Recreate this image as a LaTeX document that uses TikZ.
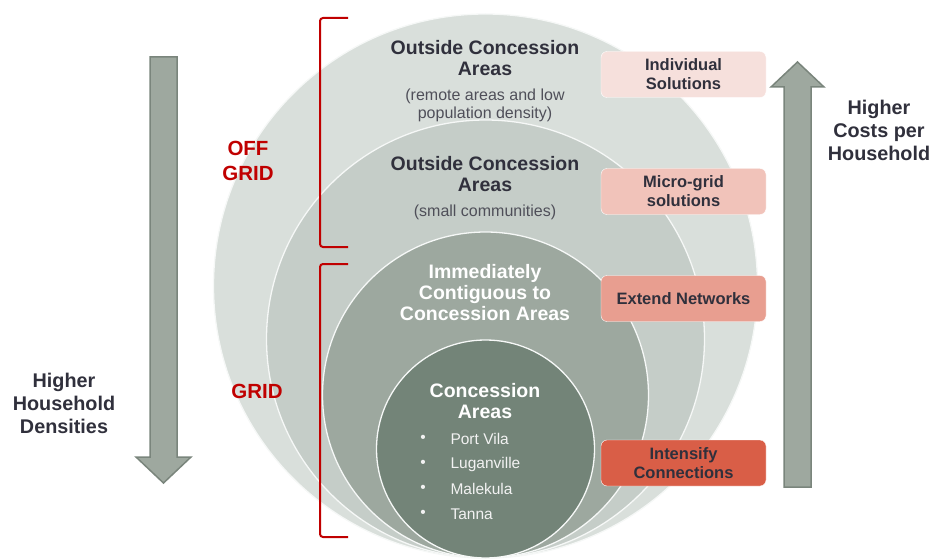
\documentclass[tikz,border=0pt]{standalone}
\usepackage{fontspec}
\setmainfont{Liberation Sans}
\usetikzlibrary{positioning}
\definecolor{ringA}{HTML}{D9DFDB}
\definecolor{ringB}{HTML}{C5CDC8}
\definecolor{ringC}{HTML}{9DA89F}
\definecolor{ringD}{HTML}{738478}
\definecolor{txt}{HTML}{30303C}
\definecolor{gridred}{HTML}{C00000}
\definecolor{boxA}{HTML}{F6E0DC}
\definecolor{boxB}{HTML}{F1C3BA}
\definecolor{boxC}{HTML}{E89E90}
\definecolor{boxD}{HTML}{D95E47}
\definecolor{arrfill}{HTML}{9EA89F}
\definecolor{arrline}{HTML}{7A857C}

\begin{document}
\begin{tikzpicture}[x=1pt,y=-1pt,
  ring/.style={draw=white!85!ringB,line width=1.3pt},
  title/.style={font=\fontsize{19.5}{21}\selectfont\bfseries,text=txt,align=center},
  wtitle/.style={title,text=white},
  note/.style={font=\fontsize{16}{18}\selectfont,text=txt!85,align=center},
  city/.style={font=\fontsize{15.5}{18}\selectfont,text=white!95!black},
  action/.style={draw=white,rounded corners=6pt,minimum width=165pt,minimum height=46pt,
    font=\fontsize{16.5}{19}\selectfont\bfseries,text=txt,align=center},
  side/.style={font=\fontsize{19.8}{23}\selectfont\bfseries,text=txt,align=center},
  zone/.style={font=\fontsize{20.5}{25}\selectfont\bfseries,text=gridred,align=center},
  bracket/.style={draw=gridred,line width=2pt,rounded corners=3pt},
  fat/.style={fill=arrfill,draw=arrline,line width=1.5pt}]
  \useasboundingbox (0,0) rectangle (932,559);

  % nested areas, all touching at the bottom
  \draw[ring,fill=ringA] (485.5,286) circle[radius=272pt];
  \draw[ring,fill=ringB] (485.5,339) circle[radius=219pt];
  \draw[ring,fill=ringC] (485.5,395) circle[radius=163pt];
  \draw[ring,fill=ringD] (485.5,449) circle[radius=109pt];

  \node[title] (remote) at (485,58) {Outside Concession\\Areas};
  \node[note] (remote-n) at (485,105) {(remote areas and low\\population density)};
  \node[title] (small) at (485,174) {Outside Concession\\Areas};
  \node[note] (small-n) at (485,212) {(small communities)};
  \node[wtitle] (contig) at (485,293) {Immediately\\Contiguous to\\Concession Areas};
  \node[wtitle] (conc) at (485,401) {Concession\\Areas};
  \foreach \town [count=\i] in {Port Vila,Luganville,Malekula,Tanna} {
    \node[city] (dot-\i) at (423,414+25*\i) {\textbullet};
    \node[city,anchor=west] (town-\i) at (447,414+25*\i) {\town};
  }

  % actions
  \node[action,fill=boxA] (indiv) at (683.5,74.5) {Individual\\Solutions};
  \node[action,fill=boxB] (micro) at (683.5,191.5) {Micro-grid\\solutions};
  \node[action,fill=boxC] (extend) at (683.5,298.5) {Extend Networks};
  \node[action,fill=boxD] (intens) at (683.5,463) {Intensify\\Connections};

  % off grid / grid
  \node[zone] (offgrid) at (248,160.5) {OFF\\GRID};
  \node[zone] (grid) at (257,391) {GRID};
  \draw[bracket] (348,18) -| (320,247) -- (348,247);
  \draw[bracket] (348,264) -| (320,537) -- (348,537);

  % trends
  \draw[fat] (150,57) -- (177,57) -- (177,457) -- (191,457) -- (163.5,483)
    -- (136,457) -- (150,457) -- cycle;
  \draw[fat] (784,487) -- (811,487) -- (811,87) -- (824,87) -- (797.5,62)
    -- (771,87) -- (784,87) -- cycle;
  \node[side] (dens) at (64,403) {Higher\\Household\\Densities};
  \node[side] (cost) at (879,130) {Higher\\Costs per\\Household};
\end{tikzpicture}
\end{document}
